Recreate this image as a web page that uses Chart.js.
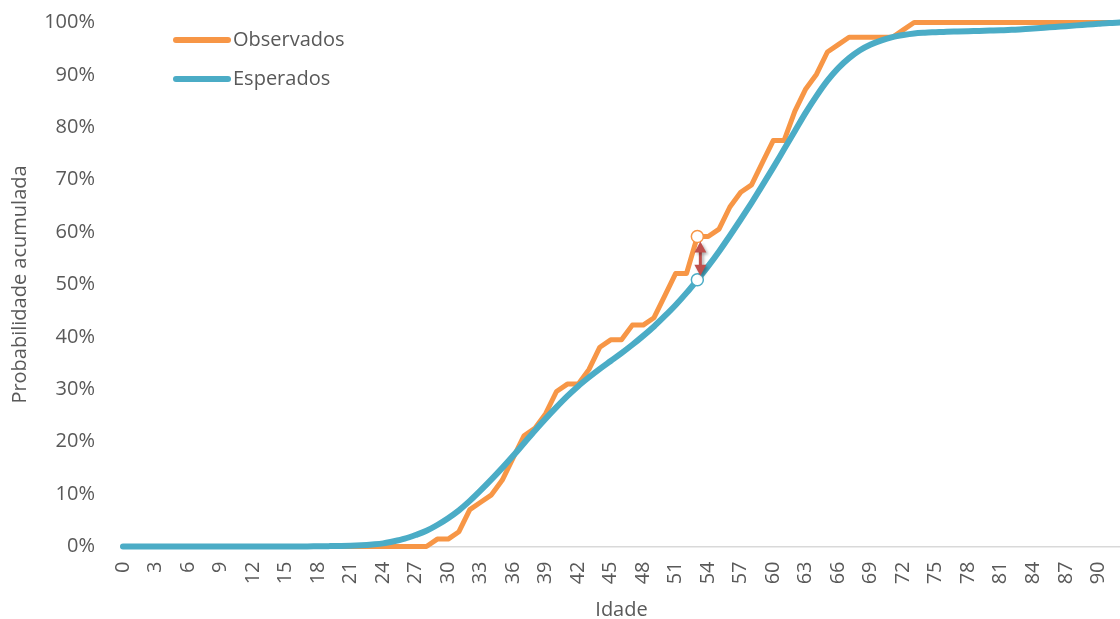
<!DOCTYPE html>
<html lang="pt">
<head>
<meta charset="utf-8">
<title>Probabilidade acumulada por idade</title>
<script src="https://cdn.jsdelivr.net/npm/chart.js@4.4.1/dist/chart.umd.min.js"></script>
<style>
  html, body { margin: 0; padding: 0; background: #ffffff; }
  #wrap { width: 1120px; height: 619px; }
</style>
</head>
<body>
<div id="wrap"><canvas id="chart" width="1120" height="619"></canvas></div>
<script>
// Idades (anos)
const ages = Array.from({ length: 93 }, (_, i) => i);

// Probabilidade acumulada observada (%)
const observados = [
  0, 0, 0, 0, 0, 0, 0, 0, 0, 0,
  0, 0, 0, 0, 0, 0, 0, 0, 0, 0,
  0, 0, 0, 0, 0, 0, 0, 0, 0, 1.41,
  1.41, 2.82, 7.04, 8.45, 9.86, 12.68, 16.90, 21.13, 22.54, 25.35,
  29.58, 30.99, 30.99, 33.80, 38.03, 39.44, 39.44, 42.25, 42.25, 43.66,
  47.89, 52.11, 52.11, 59.15, 59.15, 60.56, 64.79, 67.61, 69.01, 73.24,
  77.46, 77.46, 83.10, 87.32, 90.14, 94.37, 95.77, 97.18, 97.18, 97.18,
  97.18, 97.18, 98.59, 100, 100, 100, 100, 100, 100, 100,
  100, 100, 100, 100, 100, 100, 100, 100, 100, 100,
  100, 100, 100
];

// Probabilidade acumulada esperada (%)
const esperados = [
  0, 0, 0, 0, 0, 0, 0, 0, 0, 0,
  0, 0, 0, 0, 0, 0, 0, 0, 0.05, 0.07,
  0.1, 0.15, 0.25, 0.4, 0.6, 1.0, 1.5, 2.2, 3.0, 4.1,
  5.4, 6.9, 8.7, 10.7, 12.8, 15.0, 17.3, 19.7, 22.1, 24.4,
  26.6, 28.7, 30.6, 32.3, 33.9, 35.4, 36.9, 38.5, 40.2, 42.0,
  44.0, 46.1, 48.4, 50.9, 53.5, 56.3, 59.3, 62.4, 65.6, 68.9,
  72.3, 75.8, 79.3, 82.8, 86.0, 88.9, 91.3, 93.2, 94.7, 95.8,
  96.6, 97.2, 97.6, 97.9, 98.05, 98.15, 98.25, 98.3, 98.35, 98.4,
  98.45, 98.5, 98.6, 98.7, 98.85, 99.0, 99.15, 99.3, 99.45, 99.6,
  99.75, 99.9, 100
];

// Idade em que se assinala a maior diferença entre as duas curvas
const markedAge = 53;

// Rótulos do eixo
const yTicks = [0, 10, 20, 30, 40, 50, 60, 70, 80, 90, 100];
const xTickStep = 3;

const ORANGE = '#F79646';
const BLUE = '#4BACC6';
const ARROW = '#C0504D';
const TEXT = '#595959';
const FONT = '"Open Sans", "DejaVu Sans", sans-serif';

const toPoints = (vals) => ages.map((a, i) => ({ x: a, y: vals[i] }));
const markRadius = (ctx) => (ctx.raw && ctx.raw.x === markedAge ? 6 : 0);
const noEdgePadding = (scale) => {
  scale.paddingLeft = 0;
  scale.paddingRight = 0;
  scale.paddingTop = 0;
  scale.paddingBottom = 0;
};

// Legenda desenhada dentro da área do gráfico
const innerLegend = {
  id: 'innerLegend',
  afterDraw(chart) {
    const { ctx } = chart;
    const items = [
      { text: chart.data.datasets[1].label, color: ORANGE, y: 40 },
      { text: chart.data.datasets[0].label, color: BLUE, y: 79 }
    ];
    ctx.save();
    items.forEach((it) => {
      ctx.beginPath();
      ctx.lineCap = 'round';
      ctx.lineWidth = 6;
      ctx.strokeStyle = it.color;
      ctx.moveTo(176, it.y);
      ctx.lineTo(228, it.y);
      ctx.stroke();
      ctx.fillStyle = TEXT;
      ctx.font = '20px ' + FONT;
      ctx.textBaseline = 'middle';
      ctx.textAlign = 'left';
      ctx.fillText(it.text, 233, it.y);
    });
    ctx.restore();
  }
};

// Seta dupla entre o valor observado e o esperado na idade assinalada
const gapArrow = {
  id: 'gapArrow',
  afterDatasetsDraw(chart) {
    const { ctx, scales } = chart;
    const i = ages.indexOf(markedAge);
    const x = scales.x.getPixelForValue(markedAge) + 3;
    const yA = scales.y.getPixelForValue(observados[i]) + 5;
    const yB = scales.y.getPixelForValue(esperados[i]) - 4;
    const head = 11, half = 6;
    ctx.save();
    ctx.shadowColor = 'rgba(0,0,0,0.3)';
    ctx.shadowBlur = 3;
    ctx.shadowOffsetX = 2;
    ctx.shadowOffsetY = 2;
    ctx.strokeStyle = ARROW;
    ctx.fillStyle = ARROW;
    ctx.lineWidth = 3;
    ctx.beginPath();
    ctx.moveTo(x, yA + head - 1);
    ctx.lineTo(x, yB - head + 1);
    ctx.stroke();
    ctx.beginPath();
    ctx.moveTo(x, yA);
    ctx.lineTo(x - half, yA + head);
    ctx.lineTo(x + half, yA + head);
    ctx.closePath();
    ctx.fill();
    ctx.beginPath();
    ctx.moveTo(x, yB);
    ctx.lineTo(x - half, yB - head);
    ctx.lineTo(x + half, yB - head);
    ctx.closePath();
    ctx.fill();
    ctx.restore();
  }
};

new Chart(document.getElementById('chart'), {
  type: 'line',
  data: {
    datasets: [
      {
        label: 'Esperados',
        data: toPoints(esperados),
        borderColor: BLUE,
        borderWidth: 6,
        tension: 0.3,
        cubicInterpolationMode: 'monotone',
        borderJoinStyle: 'round',
        borderCapStyle: 'round',
        pointRadius: markRadius,
        pointHoverRadius: markRadius,
        pointBackgroundColor: '#ffffff',
        pointBorderColor: BLUE,
        pointBorderWidth: 1.5,
        clip: 8,
        order: 0
      },
      {
        label: 'Observados',
        data: toPoints(observados),
        borderColor: ORANGE,
        borderWidth: 5,
        tension: 0,
        borderJoinStyle: 'round',
        borderCapStyle: 'round',
        pointRadius: markRadius,
        pointHoverRadius: markRadius,
        pointBackgroundColor: '#ffffff',
        pointBorderColor: ORANGE,
        pointBorderWidth: 1.5,
        clip: 8,
        order: 1
      }
    ]
  },
  options: {
    responsive: false,
    animation: false,
    devicePixelRatio: 1,
    layout: { padding: { top: 22.5, right: 0, bottom: 0, left: 0 } },
    plugins: { legend: { display: false }, tooltip: { enabled: false } },
    scales: {
      x: {
        type: 'linear',
        min: ages[0],
        max: ages[ages.length - 1],
        grid: { display: false, drawTicks: false },
        border: { display: true, color: '#D9D9D9', width: 1.5 },
        afterBuildTicks(scale) {
          scale.ticks = ages.filter((a) => a % xTickStep === 0).map((a) => ({ value: a }));
        },
        afterFit(scale) { scale.height = 72.5; noEdgePadding(scale); },
        ticks: {
          autoSkip: false,
          minRotation: 90,
          maxRotation: 90,
          padding: 15,
          color: TEXT,
          font: { family: FONT, size: 20 },
          callback: (v) => String(v)
        },
        title: {
          display: true,
          text: 'Idade',
          color: TEXT,
          font: { family: FONT, size: 20, lineHeight: 1 },
          padding: { top: 0, bottom: -1 }
        }
      },
      y: {
        min: 0,
        max: 100,
        grid: { display: false, drawTicks: false },
        border: { display: false },
        afterBuildTicks(scale) {
          scale.ticks = yTicks.map((v) => ({ value: v }));
        },
        afterFit(scale) { scale.width = 123; noEdgePadding(scale); },
        ticks: {
          padding: 28,
          color: TEXT,
          font: { family: FONT, size: 20 },
          callback: (v) => v + '%'
        },
        title: {
          display: true,
          text: 'Probabilidade acumulada',
          color: TEXT,
          font: { family: FONT, size: 20, lineHeight: 1.2 },
          padding: { top: 8, bottom: 0 }
        }
      }
    }
  },
  plugins: [innerLegend, gapArrow]
});
</script>
</body>
</html>
